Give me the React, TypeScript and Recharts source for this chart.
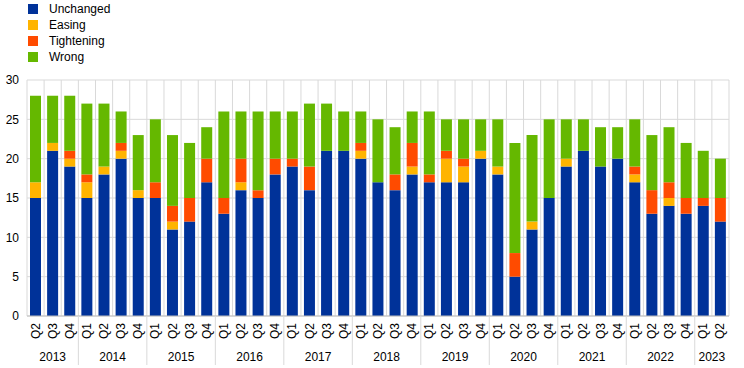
import { Bar, BarChart, CartesianGrid, XAxis, YAxis } from "recharts";

const quarters = [
  "Q2", "Q3", "Q4",
  "Q1", "Q2", "Q3", "Q4",
  "Q1", "Q2", "Q3", "Q4",
  "Q1", "Q2", "Q3", "Q4",
  "Q1", "Q2", "Q3", "Q4",
  "Q1", "Q2", "Q3", "Q4",
  "Q1", "Q2", "Q3", "Q4",
  "Q1", "Q2", "Q3", "Q4",
  "Q1", "Q2", "Q3", "Q4",
  "Q1", "Q2", "Q3", "Q4",
  "Q1", "Q2",
];

const years = [
  "2013", "2013", "2013",
  "2014", "2014", "2014", "2014",
  "2015", "2015", "2015", "2015",
  "2016", "2016", "2016", "2016",
  "2017", "2017", "2017", "2017",
  "2018", "2018", "2018", "2018",
  "2019", "2019", "2019", "2019",
  "2020", "2020", "2020", "2020",
  "2021", "2021", "2021", "2021",
  "2022", "2022", "2022", "2022",
  "2023", "2023",
];

const unchanged = [
  15, 21, 19, 15, 18, 20, 15, 15, 11, 12, 17, 13, 16, 15, 18, 19, 16, 21, 21, 20, 17,
  16, 18, 17, 17, 17, 20, 18, 5, 11, 15, 19, 21, 19, 20, 17, 13, 14, 13, 14, 12,
];
const easing = [
  2, 1, 1, 2, 1, 1, 1, 0, 1, 0, 0, 0, 1, 0, 0, 0, 0, 0, 0, 1, 0,
  0, 1, 0, 3, 2, 1, 1, 0, 1, 0, 1, 0, 0, 0, 1, 0, 1, 0, 0, 0,
];
const tightening = [
  0, 0, 1, 1, 0, 1, 0, 2, 2, 3, 3, 2, 3, 1, 2, 1, 3, 0, 0, 1, 0,
  2, 3, 1, 1, 1, 0, 0, 3, 0, 0, 0, 0, 0, 0, 1, 3, 2, 2, 1, 3,
];
const wrong = [
  11, 6, 7, 9, 8, 4, 7, 8, 9, 7, 4, 11, 6, 10, 6, 6, 8, 6, 5, 4, 8,
  6, 4, 8, 4, 5, 4, 6, 14, 11, 10, 5, 4, 5, 4, 6, 7, 7, 7, 6, 5,
];

const series = [
  { key: "unchanged", name: "Unchanged", color: "#003299" },
  { key: "easing", name: "Easing", color: "#ffb400" },
  { key: "tightening", name: "Tightening", color: "#ff4b00" },
  { key: "wrong", name: "Wrong", color: "#65b800" },
];

const yTicks = [0, 5, 10, 15, 20, 25, 30];

const data = quarters.map((q, i) => ({
  id: `${years[i]}${q}`,
  quarter: q,
  year: years[i],
  unchanged: unchanged[i],
  easing: easing[i],
  tightening: tightening[i],
  wrong: wrong[i],
}));

const FONT = '"Liberation Sans", Arial, sans-serif';
const W = 744;
const H = 368;
const M = { top: 80, right: 15, bottom: 0, left: 0 };
const Y_W = 27;
const BAND = (W - M.left - M.right - Y_W) / data.length;

function QuarterTick(props: any) {
  const { x, y, payload } = props;
  const i = payload.index;
  const year = years[i];
  const first = years.indexOf(year);
  const last = years.lastIndexOf(year);
  const isFirst = i === first;
  const middle = (first + last) / 2;
  const showYear = i === Math.floor(middle);
  const yearX = x + (middle - Math.floor(middle)) * BAND;
  return (
    <g>
      <text
        x={x}
        y={y - 1}
        transform={`rotate(-90 ${x} ${y - 1})`}
        textAnchor="end"
        dominantBaseline="central"
        fontSize={12}
        fill="#000"
        fontFamily={FONT}
      >
        {quarters[i]}
      </text>
      {isFirst && i > 0 && (
        <line
          x1={x - BAND / 2}
          x2={x - BAND / 2}
          y1={y - 8}
          y2={y + 41}
          stroke="#d9d9d9"
        />
      )}
      {showYear && (
        <text
          x={yearX}
          y={y + 33}
          textAnchor="middle"
          dominantBaseline="central"
          fontSize={12}
          fill="#000"
          fontFamily={FONT}
        >
          {year}
        </text>
      )}
    </g>
  );
}

export default function App() {
  return (
    <div
      style={{
        position: "absolute",
        left: 0,
        top: 0,
        width: W,
        height: H,
        background: "#fff",
        fontFamily: FONT,
      }}
    >
      <div style={{ position: "absolute", left: 28, top: 1 }}>
        {series.map((s) => (
          <div
            key={s.key}
            style={{ display: "flex", alignItems: "center", height: 16, fontSize: 12 }}
          >
            <span
              style={{
                width: 10,
                height: 10,
                background: s.color,
                display: "inline-block",
                marginRight: 11,
              }}
            />
            <span>{s.name}</span>
          </div>
        ))}
      </div>
      <BarChart width={W} height={H} data={data} margin={M} barSize={11}>
        <CartesianGrid
          stroke="#d9d9d9"
          verticalCoordinatesGenerator={({ offset }: any) =>
            data.map((_, i) => offset.left + i * BAND).concat(offset.left + data.length * BAND)
          }
        />
        <XAxis
          dataKey="id"
          interval={0}
          height={52}
          tickLine={false}
          axisLine={{ stroke: "#bfbfbf" }}
          tick={<QuarterTick />}
        />
        <YAxis
          width={Y_W}
          domain={[0, 30]}
          ticks={yTicks}
          axisLine={false}
          tickLine={false}
          tick={{ fontSize: 12, fill: "#000", fontFamily: FONT }}
        />
        {series.map((s) => (
          <Bar
            key={s.key}
            dataKey={s.key}
            name={s.name}
            stackId="a"
            fill={s.color}
            isAnimationActive={false}
          />
        ))}
      </BarChart>
    </div>
  );
}
